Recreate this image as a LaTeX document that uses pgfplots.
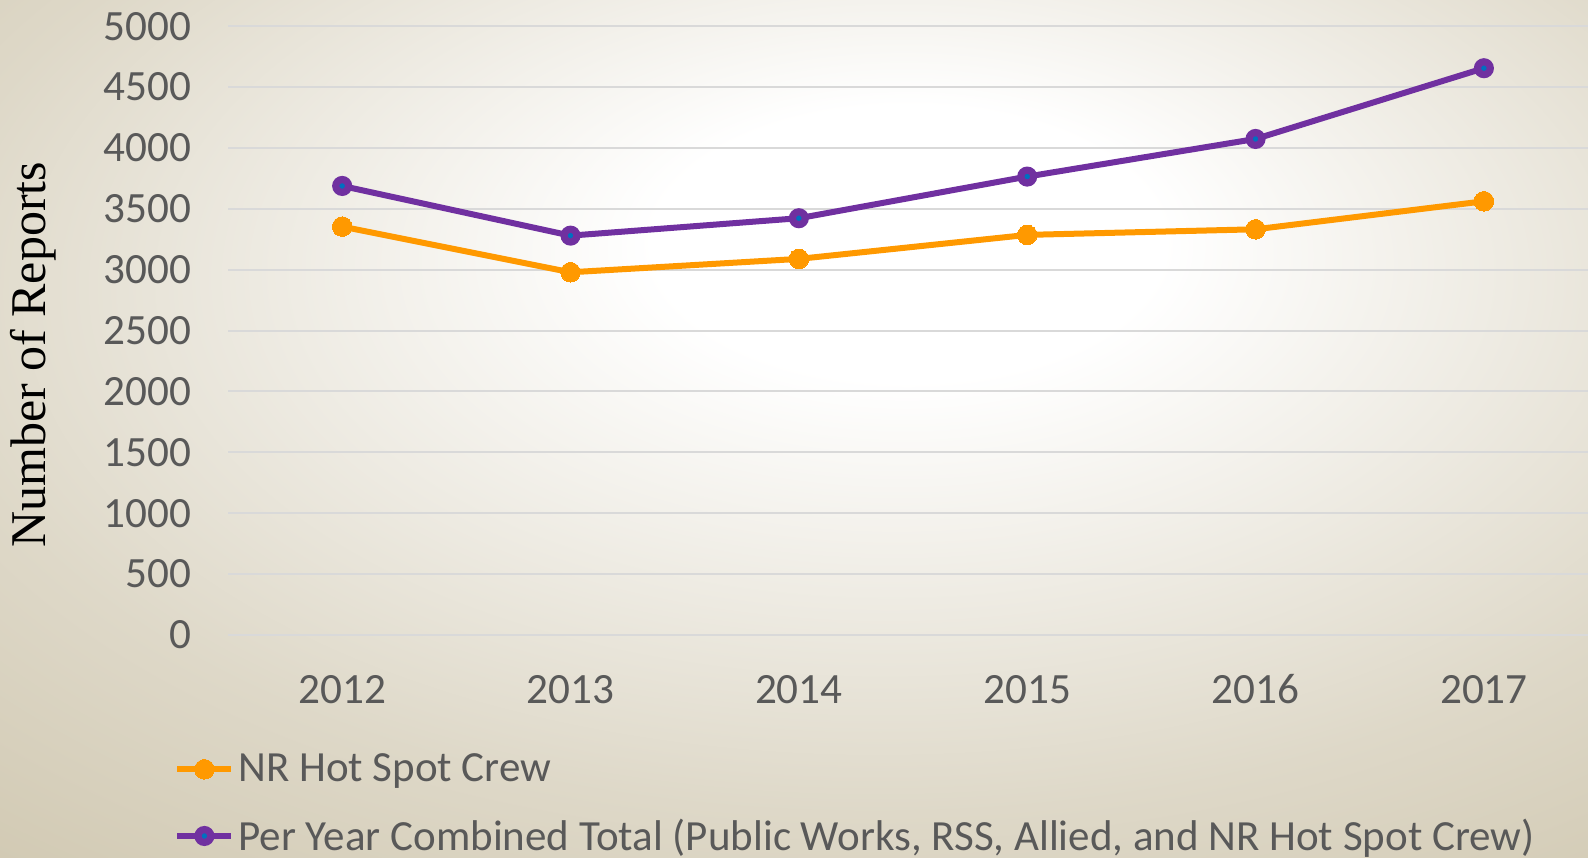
\documentclass[border=0pt]{standalone}
\usepackage{pgfplots}
\pgfplotsset{compat=1.18}
\usepackage{fontspec}
\setmainfont{Carlito}
\newfontfamily\seriffont{Liberation Serif}
\definecolor{tanc}{RGB}{198,188,160}
\definecolor{orng}{RGB}{255,153,0}
\definecolor{purp}{RGB}{112,48,160}
\definecolor{blu}{RGB}{0,112,192}
\definecolor{txt}{RGB}{89,89,89}
\definecolor{grd}{RGB}{217,217,217}
\pgfdeclareradialshading{bgshade}{\pgfpoint{4bp}{12bp}}{color(0bp)=(white); color(8bp)=(white); color(30bp)=(white!42!tanc); color(52bp)=(tanc); color(80bp)=(tanc)}
\begin{document}
\begin{tikzpicture}
\shade[shading=bgshade] (0,0) rectangle (794pt,428.5pt);
\path[use as bounding box] (0,0) rectangle (794pt,428.5pt);
\begin{axis}[
  at={(114pt,111pt)}, anchor=south west,
  scale only axis, width=680pt, height=304.4pt,
  xmin=-0.5, xmax=5.456, ymin=0, ymax=5000,
  axis line style={draw=none},
  xtick={0,1,2,3,4,5},
  xticklabels={2012,2013,2014,2015,2016,2017},
  ytick={0,500,...,5000},
  major tick length=0pt,
  ymajorgrids, grid style={grd, line width=1pt},
  tick label style={font=\fontsize{21.6}{26}\selectfont, text=txt},
  /pgf/number format/assume math mode=true,
  /pgf/number format/1000 sep={},
  yticklabel style={xshift=-15pt},
  xticklabel style={anchor=base, yshift=-34pt},
  ylabel={\seriffont Number of Reports},
  ylabel style={font=\fontsize{25}{30}\selectfont, at={(axis description cs:-0.1435,0.46)}, anchor=center},
  legend style={draw=none, fill=none, at={(-0.0397,-0.188)}, anchor=north west,
    font=\fontsize{21.5}{26}\selectfont, text=txt, inner sep=0pt,
    row sep=13pt, cells={anchor=west}},
  legend image code/.code={\draw[mark repeat=2,mark phase=2] plot coordinates {(0pt,0pt) (13.5pt,0pt) (27pt,0pt)};},
  clip=false,
]
\addplot[orng, line width=3pt, mark=*, mark size=4.9pt, mark options={fill=orng, draw=orng, line width=0pt}]
  coordinates {(0,3354) (1,2979) (2,3089) (3,3286) (4,3332) (5,3562)};
\addlegendentry{NR Hot Spot Crew}
\addplot[purp, line width=3pt, mark=*, mark size=3.2pt, mark options={fill=blu, draw=purp, line width=3.6pt}]
  coordinates {(0,3688) (1,3280) (2,3423) (3,3765) (4,4074) (5,4655)};
\addlegendentry{Per Year Combined Total (Public Works, RSS, Allied, and NR Hot Spot Crew)}
\end{axis}
\end{tikzpicture}
\end{document}
